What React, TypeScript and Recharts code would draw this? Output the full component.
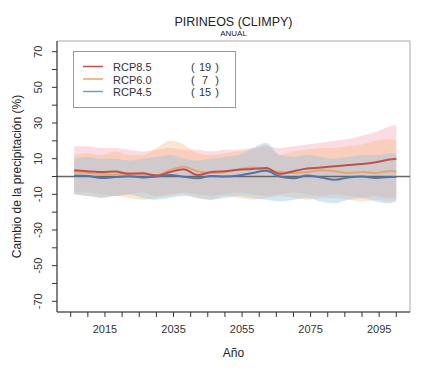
import React from 'react';
import {
  ComposedChart,
  Area,
  Line,
  XAxis,
  YAxis,
  ReferenceLine,
  ReferenceArea,
  Legend,
} from 'recharts';

const years = [2006, 2010, 2014, 2018, 2022, 2026, 2030, 2034, 2038, 2042, 2046, 2050, 2054, 2058, 2062, 2066, 2070, 2074, 2078, 2082, 2086, 2090, 2094, 2098, 2100];

const rcp85 = [3.5, 3.0, 2.5, 2.8, 1.5, 1.8, 0.5, 2.5, 4.0, 0.8, 2.5, 3.0, 3.8, 4.2, 4.8, 1.5, 3.0, 4.5, 5.0, 5.8, 6.4, 7.0, 8.0, 9.5, 10.0];
const rcp85Low = [-9, -9, -10, -11, -10, -9, -11, -10, -9, -10, -11, -10, -9, -10, -11, -10, -9, -10, -11, -10, -11, -12, -11, -12, -12];
const rcp85High = [17, 17, 16, 16, 15, 14, 15, 16, 15, 15, 14, 15, 15, 16, 17, 16, 17, 18, 19, 20, 21, 23, 25, 28, 29];

const rcp60 = [2.5, 2.0, 1.5, 1.0, 2.0, 1.0, 0.8, 3.5, 5.5, 3.0, 2.0, 2.5, 4.0, 5.0, 3.5, 2.5, 2.0, 2.5, 3.5, 3.0, 2.0, 2.5, 2.0, 3.0, 3.0];
const rcp60Low = [-10, -11, -12, -11, -12, -13, -12, -11, -10, -12, -13, -11, -12, -13, -12, -11, -12, -13, -12, -12, -13, -14, -13, -14, -13];
const rcp60High = [12, 13, 12, 14, 12, 12, 16, 20, 18, 13, 12, 13, 14, 15, 18, 12, 14, 15, 16, 16, 17, 18, 20, 21, 20];

const rcp45 = [0.5, 0.3, -0.8, -0.3, 0.2, -0.5, 0.0, 0.8, -0.2, -1.0, 0.3, 0.0, 0.5, 2.0, 3.2, 0.0, -1.0, 0.5, -0.5, -1.8, -0.5, 0.0, -0.8, -0.3, -0.3];
const rcp45Low = [-10, -11, -12, -11, -10, -12, -13, -12, -11, -12, -13, -12, -11, -12, -13, -14, -13, -12, -14, -15, -13, -12, -14, -15, -14];
const rcp45High = [10, 11, 10, 10, 9, 10, 11, 12, 10, 9, 10, 11, 12, 16, 19, 12, 11, 12, 11, 10, 11, 12, 12, 13, 13];

const xTicks = [2005, 2010, 2015, 2020, 2025, 2030, 2035, 2040, 2045, 2050, 2055, 2060, 2065, 2070, 2075, 2080, 2085, 2090, 2095, 2100];
const yTicks = [-70, -60, -50, -40, -30, -20, -10, 0, 10, 20, 30, 40, 50, 60, 70];

const legendLabels = ['RCP8.5', 'RCP6.0', 'RCP4.5'];
const modelCounts = [19, 7, 15];
const lineColors = ['#c0504d', '#e6a46e', '#6f9fcf'];

const FONT = '"Liberation Sans", Arial, Helvetica, sans-serif';

const data = years.map((year, i) => ({
  year,
  r85: rcp85[i],
  r60: rcp60[i],
  r45: rcp45[i],
  b85: [rcp85Low[i], rcp85High[i]],
  b60: [rcp60Low[i], rcp60High[i]],
  b45: [rcp45Low[i], rcp45High[i]],
}));

const XTick = (props: any) => {
  const { x, y, payload } = props;
  const v = payload.value;
  const major = (v - 2015) % 20 === 0;
  return (
    <g>
      <line x1={x} x2={x} y1={y} y2={y + 5} stroke="#333" />
      {major && (
        <text x={x} y={y + 21} textAnchor="middle" fontSize={11} fill="#333" fontFamily={FONT}>
          {v}
        </text>
      )}
    </g>
  );
};

const YTick = (props: any) => {
  const { x, y, payload } = props;
  const v = payload.value;
  const major = (v + 70) % 20 === 0;
  const cx = x - 19;
  return (
    <g>
      <line x1={x - 5} x2={x} y1={y} y2={y} stroke="#333" />
      {major && (
        <text
          x={cx}
          y={y}
          transform={`rotate(-90 ${cx} ${y})`}
          textAnchor="middle"
          dominantBaseline="central"
          fontSize={11}
          fill="#333"
          fontFamily={FONT}
        >
          {v}
        </text>
      )}
    </g>
  );
};

const TitleLabel = (props: any) => {
  const { x, y, width } = props.viewBox;
  const cx = x + width / 2;
  return (
    <g fontFamily={FONT} fill="#222">
      <text x={cx} y={y - 15} textAnchor="middle" fontSize={12.5}>PIRINEOS (CLIMPY)</text>
      <text x={cx} y={y - 5} textAnchor="middle" fontSize={8}>ANUAL</text>
    </g>
  );
};

const XTitle = (props: any) => {
  const { x, y, width } = props.viewBox;
  return (
    <text x={x + width / 2} y={y + 45} textAnchor="middle" fontSize={12} fill="#222" fontFamily={FONT}>
      Año
    </text>
  );
};

const YTitle = (props: any) => {
  const { x, y, height } = props.viewBox;
  const cx = x + 17;
  const cy = y + height / 2;
  return (
    <text
      x={cx}
      y={cy}
      transform={`rotate(-90 ${cx} ${cy})`}
      textAnchor="middle"
      dominantBaseline="central"
      fontSize={12}
      fill="#222"
      fontFamily={FONT}
    >
      Cambio de la precipitación (%)
    </text>
  );
};

const LegendBox = () => (
  <svg width={163} height={57} style={{ display: 'block' }}>
    <rect x={0.5} y={0.5} width={162} height={56} fill="none" stroke="#999" />
    {legendLabels.map((label, i) => {
      const ly = 15.5 + i * 12.5;
      return (
        <g key={label} fontFamily={FONT} fontSize={11} fill="#333">
          <line x1={10} x2={30} y1={ly} y2={ly} stroke={lineColors[i]} strokeWidth={1.5} />
          <text x={40} y={ly + 4.5}>{label}</text>
          <text x={118} y={ly + 4.5}>(</text>
          <text x={132} y={ly + 4.5} textAnchor="middle">{modelCounts[i]}</text>
          <text x={146} y={ly + 4.5} textAnchor="end">)</text>
        </g>
      );
    })}
  </svg>
);

export default function App() {
  return (
    <div style={{ position: 'absolute', left: 0, top: 0, width: 428, height: 372, background: '#fff', fontFamily: FONT }}>
      <ComposedChart width={428} height={372} data={data} margin={{ top: 41, right: 18, bottom: 0, left: 0 }}>
        <XAxis
          dataKey="year"
          type="number"
          domain={[2001, 2104]}
          allowDataOverflow
          ticks={xTicks}
          interval={0}
          tickSize={0}
          tickMargin={0}
          tick={<XTick />}
          height={60}
          axisLine={{ stroke: '#333' }}
          label={<XTitle />}
        />
        <YAxis
          type="number"
          domain={[-76, 76]}
          allowDataOverflow
          ticks={yTicks}
          interval={0}
          tickSize={0}
          tickMargin={0}
          tick={<YTick />}
          width={57}
          axisLine={{ stroke: '#333' }}
          label={<YTitle />}
        />
        <ReferenceArea x1={2001} x2={2104} y1={-76} y2={76} fill="none" stroke="#aaa" ifOverflow="visible" label={<TitleLabel />} />
        <Area type="monotone" dataKey="b85" stroke="none" fill="#f2a3b3" fillOpacity={0.38} isAnimationActive={false} />
        <Area type="monotone" dataKey="b60" stroke="none" fill="#f8b577" fillOpacity={0.35} isAnimationActive={false} />
        <Area type="monotone" dataKey="b45" stroke="none" fill="#96c6e2" fillOpacity={0.42} isAnimationActive={false} />
        <ReferenceLine y={0} stroke="#666" strokeWidth={1.5} />
        <Line type="monotone" dataKey="r60" stroke={lineColors[1]} strokeWidth={2} dot={false} isAnimationActive={false} />
        <Line type="monotone" dataKey="r45" stroke="#4f76a8" strokeWidth={2} dot={false} isAnimationActive={false} />
        <Line type="monotone" dataKey="r85" stroke={lineColors[0]} strokeWidth={2} dot={false} isAnimationActive={false} />
        <Legend
          layout="horizontal"
          verticalAlign="middle"
          align="center"
          content={<LegendBox />}
          wrapperStyle={{ left: 73, top: 51, width: 163, height: 57 }}
        />
      </ComposedChart>
    </div>
  );
}
